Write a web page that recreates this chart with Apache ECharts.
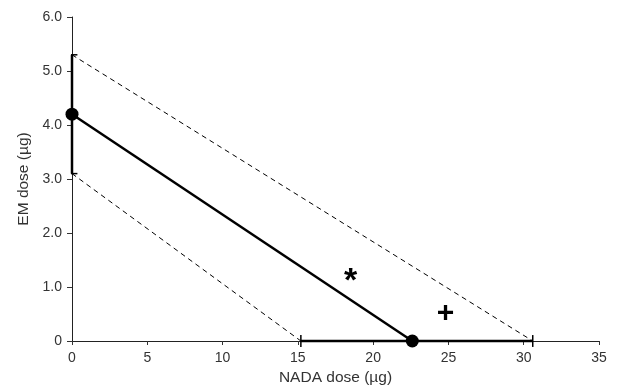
<!DOCTYPE html>
<html><head><meta charset="utf-8">
<script src="https://cdn.jsdelivr.net/npm/echarts@6/dist/echarts.min.js"></script>
<style>html,body{margin:0;padding:0;background:#fff}#c{width:618px;height:392px}</style>
</head><body><div id="c"></div>
<script>
// Additive line (solid) and its confidence limits (dashed)
const emAlone = 4.2, emLow = 3.1, emHigh = 5.3;        // EM dose alone (µg), with limits
const nadaAlone = 22.6, nadaLow = 15.2, nadaHigh = 30.6; // NADA dose alone (µg), with limits
const additiveLine = [[0, emAlone], [nadaAlone, 0]];
const upperLine = [[0, emHigh], [nadaHigh, 0]];
const lowerLine = [[0, emLow], [nadaLow, 0]];
const alonePoints = [[0, emAlone], [nadaAlone, 0]];
const starPoint = [[18.5, 1.22]];
const plusPoint = [[24.8, 0.5]];
const xTicks = [0, 5, 10, 15, 20, 25, 30, 35];
const yTicks = [0, 1, 2, 3, 4, 5, 6];

const chart = echarts.init(document.getElementById('c'));
const font = 'Liberation Sans, Arial, sans-serif';
const capX = 0.36, capY = 0.11;
function seg(d, w, dash) {
  return {type: 'line', data: d, symbol: 'none', clip: false, silent: true,
    lineStyle: {color: '#000', width: w, type: dash || 'solid'}, z: 3};
}
chart.setOption({
  animation: false,
  grid: {left: 72, right: 19, top: 17, bottom: 51},
  xAxis: {
    type: 'value', min: 0, max: 35, interval: 5,
    name: 'NADA dose (µg)', nameLocation: 'middle', nameGap: 29,
    nameTextStyle: {fontFamily: font, fontSize: 15.5, color: '#333'},
    axisLine: {lineStyle: {color: '#222', width: 1}},
    axisTick: {show: true, length: 4, lineStyle: {color: '#333'}},
    axisLabel: {fontFamily: font, fontSize: 14, color: '#333', margin: 10},
    splitLine: {show: false}
  },
  yAxis: {
    type: 'value', min: 0, max: 6, interval: 1,
    name: 'EM dose (µg)', nameLocation: 'middle', nameGap: 40,
    nameTextStyle: {fontFamily: font, fontSize: 15.5, color: '#333'},
    axisLine: {show: true, lineStyle: {color: '#222', width: 1}},
    axisTick: {show: true, length: 5, lineStyle: {color: '#333'}},
    axisLabel: {fontFamily: font, fontSize: 14, color: '#333', margin: 10,
      formatter: v => v === 0 ? '0' : v.toFixed(1)},
    splitLine: {show: false}
  },
  series: [
    seg(upperLine, 1, [5, 4]),
    seg(lowerLine, 1, [5, 4]),
    seg(additiveLine, 2.5),
    // vertical error bar on EM axis
    seg([[0, emLow], [0, emHigh]], 2.5),
    seg([[-capX, emHigh], [capX, emHigh]], 1.5),
    seg([[-capX, emLow], [capX, emLow]], 1.5),
    // horizontal error bar on NADA axis
    seg([[nadaLow, 0], [nadaHigh, 0]], 2.5),
    seg([[nadaLow, -capY], [nadaLow, capY]], 1.5),
    seg([[nadaHigh, -capY], [nadaHigh, capY]], 1.5),
    {type: 'scatter', data: alonePoints, symbol: 'circle', symbolSize: 13, clip: false,
      itemStyle: {color: '#000', opacity: 1}, z: 5},
    {type: 'scatter', data: starPoint, symbolSize: 0, clip: false,
      itemStyle: {opacity: 1},
      label: {show: true, position: 'inside', formatter: '*', fontFamily: font, fontSize: 34, fontWeight: 'bold', color: '#000', opacity: 1, offset: [0, 7]}},
    {type: 'scatter', data: plusPoint, symbolSize: 0, clip: false,
      itemStyle: {opacity: 1},
      label: {show: true, position: 'inside', formatter: '+', fontFamily: font, fontSize: 30, fontWeight: 'bold', color: '#000', opacity: 1}}
  ]
});
</script></body></html>
